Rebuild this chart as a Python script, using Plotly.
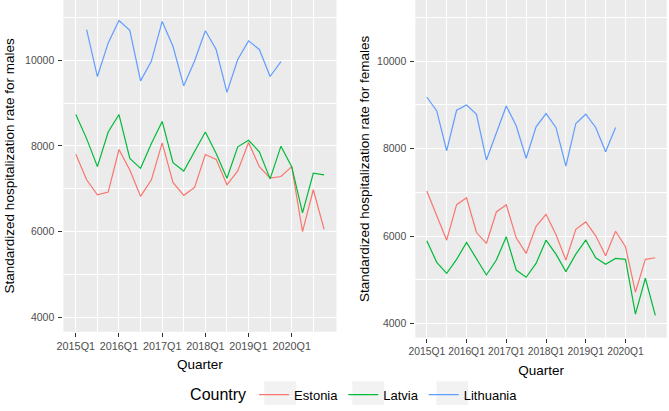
import plotly.graph_objects as go

quarters = [f"{y}Q{q}" for y in range(2015, 2021) for q in range(1, 5)]
tick_labels = ["2015Q1", "2016Q1", "2017Q1", "2018Q1", "2019Q1", "2020Q1"]
tick_idx = [0, 4, 8, 12, 16, 20]
y_ticks = [4000, 6000, 8000, 10000]
y_tick_labels = ["4000", "6000", "8000", "10000"]

# Males
est_m = [7808, 7210, 6862, 6925, 7917, 7440, 6825, 7210, 8071, 7148, 6848, 7033,
         7800, 7686, 7094, 7416, 8078, 7517, 7248, 7287, 7517, 6002, 6978, 6055]
lat_m = [8731, 8170, 7517, 8325, 8731, 7709, 7478, 8055, 8570, 7609, 7416, 7863,
         8325, 7825, 7248, 7979, 8131, 7863, 7232, 7994, 7517, 6440, 7363, 7325]
lit_m_q = quarters[1:20]
lit_m = [10708, 9617, 10400, 10923, 10692, 9516, 9977, 10900, 10323, 9400, 9977,
         10685, 10247, 9247, 10015, 10448, 10247, 9617, 9962]

# Females
est_f = [7031, 6477, 5909, 6720, 6879, 6084, 5834, 6554, 6720, 5963, 5606, 6227,
         6500, 6038, 5454, 6159, 6326, 6008, 5554, 6114, 5758, 4720, 5470, 5508]
lat_f = [5895, 5402, 5152, 5470, 5856, 5493, 5113, 5454, 5986, 5227, 5061, 5379,
         5909, 5591, 5190, 5591, 5909, 5508, 5356, 5493, 5470, 4220, 5038, 4190]
lit_f_q = quarters[0:20]
lit_f = [9182, 8864, 7954, 8879, 9000, 8788, 7743, 8372, 8977, 8523, 7781, 8500,
         8804, 8486, 7600, 8577, 8788, 8486, 7932, 8486]

countries = ["Estonia", "Latvia", "Lithuania"]
colors = {"Estonia": "#F8766D", "Latvia": "#00BA38", "Lithuania": "#619CFF"}

qi = {q: i for i, q in enumerate(quarters)}

fig = go.Figure()
series_m = {"Estonia": (quarters, est_m), "Latvia": (quarters, lat_m), "Lithuania": (lit_m_q, lit_m)}
series_f = {"Estonia": (quarters, est_f), "Latvia": (quarters, lat_f), "Lithuania": (lit_f_q, lit_f)}
for c in countries:
    q, v = series_m[c]
    fig.add_trace(go.Scatter(x=[qi[k] for k in q], y=v, mode="lines", name=c,
                             line=dict(color=colors[c], width=1.2), xaxis="x", yaxis="y",
                             legendgroup=c, showlegend=True))
for c in countries:
    q, v = series_f[c]
    fig.add_trace(go.Scatter(x=[qi[k] for k in q], y=v, mode="lines", name=c,
                             line=dict(color=colors[c], width=1.2), xaxis="x2", yaxis="y2",
                             legendgroup=c, showlegend=False))

FONT = "Liberation Sans, Arial, sans-serif"
titlefont = dict(family=FONT, size=13.5, color="#000000")

def xaxis(domain, anchor, standoff, fsize):
    return dict(domain=domain, anchor=anchor, range=[-1.15, 24.15],
                tickmode="array", tickvals=tick_idx, ticktext=tick_labels, tickangle=0,
                showgrid=True, gridcolor="white", gridwidth=1.1,
                minor=dict(tickmode="linear", tick0=2, dtick=4, showgrid=True,
                           gridcolor="white", gridwidth=0.5, ticks=""),
                ticks="outside", ticklen=4, tickcolor="#333333", tickwidth=1,
                tickfont=dict(family=FONT, size=fsize, color="#4D4D4D"),
                zeroline=False, showline=False,
                title=dict(text="Quarter", font=titlefont, standoff=standoff))

def yaxis(domain, anchor, rng, title, standoff):
    return dict(domain=domain, anchor=anchor, range=rng,
                tickmode="array", tickvals=y_ticks, ticktext=y_tick_labels,
                showgrid=True, gridcolor="white", gridwidth=1.1,
                minor=dict(tickmode="linear", tick0=1000, dtick=2000, showgrid=True,
                           gridcolor="white", gridwidth=0.5, ticks=""),
                ticks="outside", ticklen=4, tickcolor="#333333", tickwidth=1,
                tickfont=dict(family=FONT, size=10.5, color="#4D4D4D"),
                zeroline=False, showline=False,
                ticklabelstandoff=2,
                title=dict(text=title, font=titlefont, standoff=standoff))

W, H = 669, 411
key_boxes = [(260, 292), (349, 381), (434, 466)]
shapes = [dict(type="rect", xref="paper", yref="paper",
               x0=a / W, x1=b / W, y0=1 - 409 / H, y1=1 - 385 / H,
               fillcolor="#F2F2F2", line=dict(width=0), layer="above")
          for a, b in key_boxes]

fig.update_layout(
    width=W, height=H,
    margin=dict(l=0, r=0, t=0, b=0),
    paper_bgcolor="white", plot_bgcolor="#EBEBEB",
    font=dict(family=FONT),
    xaxis=xaxis([57 / W, 333 / W], "y", 8, 10.8),
    yaxis=yaxis([1 - 335 / H, 1], "x", [3670, 11400], "Standardized hospitalization rate for males", 7),
    xaxis2=xaxis([412.7 / W, 666.7 / W], "y2", 9, 10.3),
    yaxis2=yaxis([1 - 341 / H, 1], "x2", [3680, 11400], "Standardized hospitalization rate for females", 4),
    legend=dict(orientation="h", x=183 / W, xanchor="left", y=1 - 399 / H, yanchor="middle",
                title=dict(text="Country", font=dict(family=FONT, size=16, color="#000")),
                font=dict(family=FONT, size=13, color="#000"),
                bgcolor="rgba(0,0,0,0)", itemwidth=30),
    shapes=shapes,
)

fig.write_html("out.html")
